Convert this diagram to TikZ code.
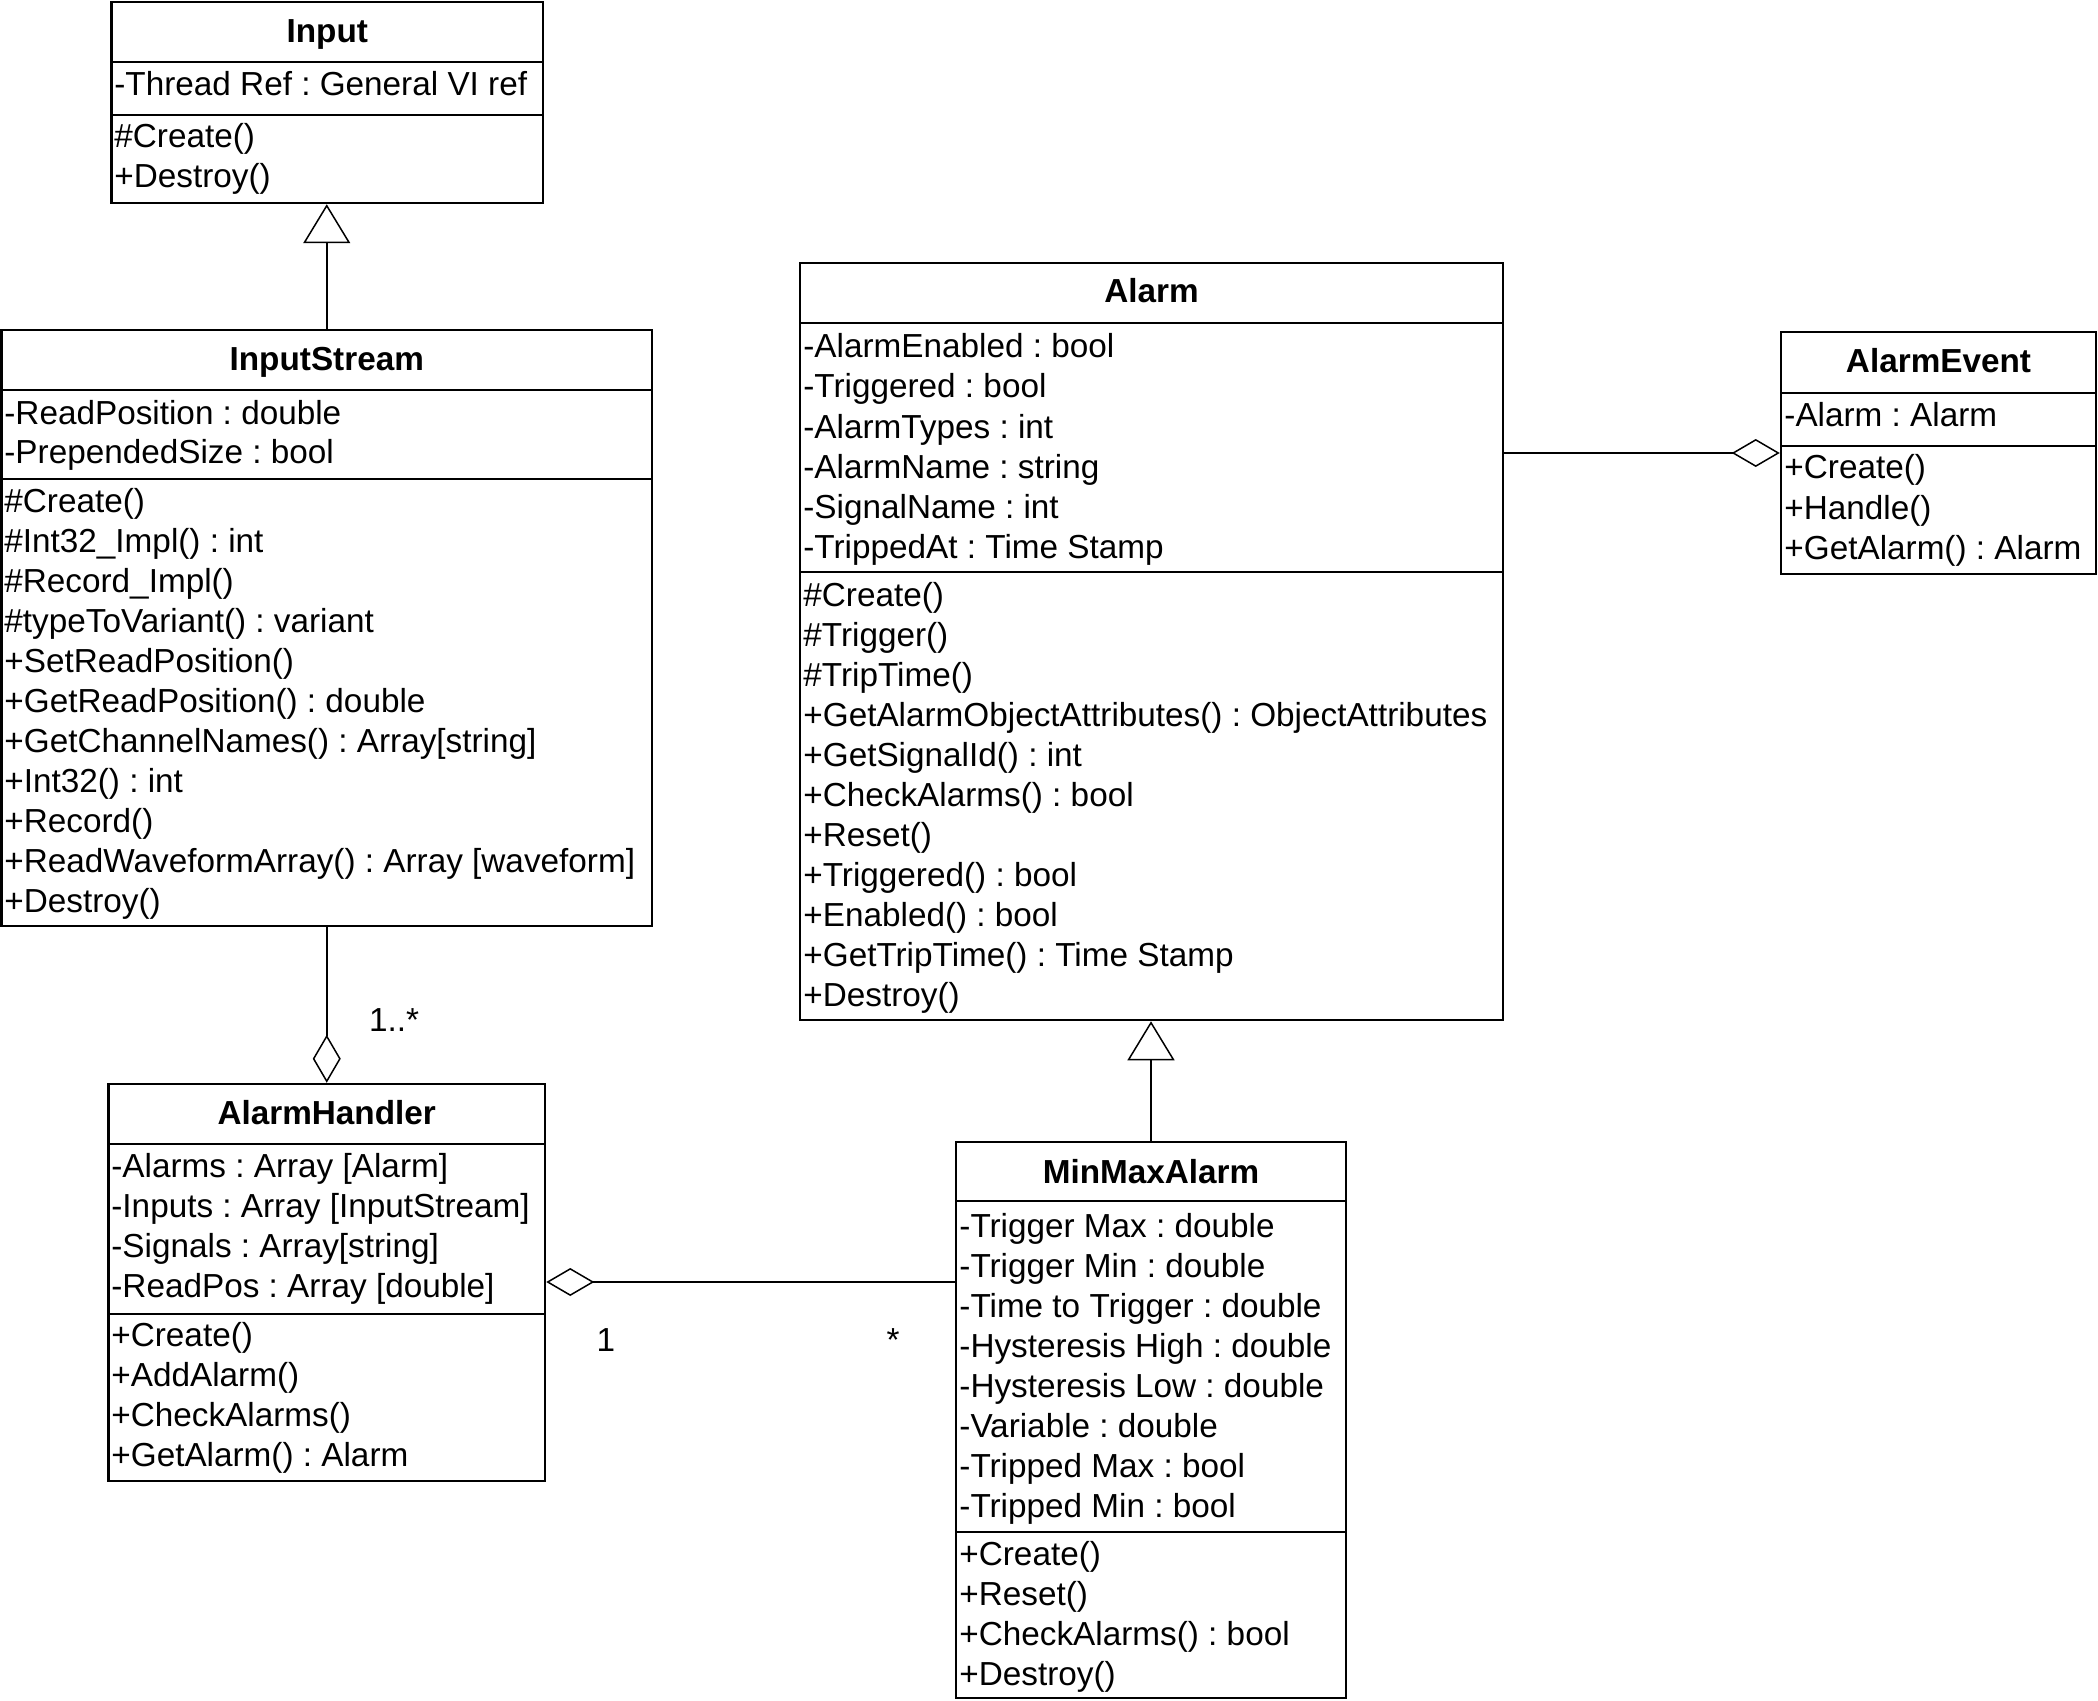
\documentclass[tikz,border=0pt]{standalone}
\usepackage{fontspec}
\setmainfont{Liberation Sans}
\usetikzlibrary{arrows.meta,fit}
\frenchspacing
\newcommand\ulines[4]{\foreach \t [count=\i] in {#4} {\node[txt] (#1-\i) at (#2,{#3+1+40*(\i-1)}) {\t};}}
\begin{document}
\begin{tikzpicture}[x=0.5pt,y=-0.5pt,
  txt/.style={anchor=base west, inner sep=0pt, font=\fontsize{16.65}{20}\selectfont},
  ttl/.style={anchor=base, inner sep=0pt, font=\fontsize{16.65}{20}\selectfont\bfseries},
  cbox/.style={draw, line width=1.25pt, inner sep=0pt},
  sep/.style={line width=1.25pt},
  conn/.style={line width=0.75pt},
  gen/.style={conn, -{Triangle[open, length=19.5pt, width=23.5pt]}},
  agg/.style={conn, -{Diamond[open, length=24pt, width=14pt]}},
]
\useasboundingbox (0,0) rectangle (2098,1701);

% Input
\node[cbox, fit={(111.5,2) (543,203)}] (input) {};
\draw[sep] (111.5,62) -- (543,62);
\draw[sep] (111.5,115) -- (543,115);
\node[ttl] (input-t) at (327.25,43) {Input};
\ulines{input-a}{114}{95}{{-Thread Ref : General VI ref}}
\ulines{input-m}{114}{147}{{\#Create()},{+Destroy()}}

% InputStream
\node[cbox, fit={(1.5,330) (652,926)}] (instream) {};
\draw[sep] (1.5,390) -- (652,390);
\draw[sep] (1.5,479) -- (652,479);
\node[ttl] (instream-t) at (326.75,371) {InputStream};
\ulines{instream-a}{4}{423}{{-ReadPosition : double},{-PrependedSize : bool}}
\ulines{instream-m}{4}{511}{{\#Create()},{\#Int32\_Impl() : int},{\#Record\_Impl()},{\#typeToVariant() : variant},{+SetReadPosition()},{+GetReadPosition() : double},{+GetChannelNames() : Array[string]},{+Int32() : int},{+Record()},{+ReadWaveformArray() : Array [waveform]},{+Destroy()}}

% AlarmHandler
\node[cbox, fit={(108.5,1084) (545,1481)}] (handler) {};
\draw[sep] (108.5,1144) -- (545,1144);
\draw[sep] (108.5,1314) -- (545,1314);
\node[ttl] (handler-t) at (326.75,1124) {AlarmHandler};
\ulines{handler-a}{111}{1176}{{-Alarms : Array [Alarm]},{-Inputs : Array [InputStream]},{-Signals : Array[string]},{-ReadPos : Array [double]}}
\ulines{handler-m}{111}{1345}{{+Create()},{+AddAlarm()},{+CheckAlarms()},{+GetAlarm() : Alarm}}

% Alarm
\node[cbox, fit={(800,263) (1503,1020)}] (alarm) {};
\draw[sep] (800,323) -- (1503,323);
\draw[sep] (800,572) -- (1503,572);
\node[ttl] (alarm-t) at (1151.5,303) {Alarm};
\ulines{alarm-a}{803}{357}{{-AlarmEnabled : bool},{-Triggered : bool},{-AlarmTypes : int},{-AlarmName : string},{-SignalName : int},{-TrippedAt : Time Stamp}}
\ulines{alarm-m}{803}{605}{{\#Create()},{\#Trigger()},{\#TripTime()},{+GetAlarmObjectAttributes() : ObjectAttributes},{+GetSignalId() : int},{+CheckAlarms() : bool},{+Reset()},{+Triggered() : bool},{+Enabled() : bool},{+GetTripTime() : Time Stamp},{+Destroy()}}

% AlarmEvent
\node[cbox, fit={(1781,332) (2096,574)}] (event) {};
\draw[sep] (1781,393) -- (2096,393);
\draw[sep] (1781,446) -- (2096,446);
\node[ttl] (event-t) at (1938.5,373) {AlarmEvent};
\ulines{event-a}{1784}{426}{{-Alarm : Alarm}}
\ulines{event-m}{1784}{478}{{+Create()},{+Handle()},{+GetAlarm() : Alarm}}

% MinMaxAlarm
\node[cbox, fit={(956,1142) (1346,1698)}] (minmax) {};
\draw[sep] (956,1201) -- (1346,1201);
\draw[sep] (956,1532) -- (1346,1532);
\node[ttl] (minmax-t) at (1151,1183) {MinMaxAlarm};
\ulines{minmax-a}{959}{1236}{{-Trigger Max : double},{-Trigger Min : double},{-Time to Trigger : double},{-Hysteresis High : double},{-Hysteresis Low : double},{-Variable : double},{-Tripped Max : bool},{-Tripped Min : bool}}
\ulines{minmax-m}{959}{1564}{{+Create()},{+Reset()},{+CheckAlarms() : bool},{+Destroy()}}

% connectors
\coordinate (h1) at (0,1282);
\coordinate (h2) at (0,453);
\draw[gen] (instream.north) -- (instream.north |- input.south);
\draw[gen] (minmax.north) -- (minmax.north |- alarm.south);
\draw[agg] (instream.south) -- (instream.south |- handler.north);
\draw[agg] (minmax.west |- h1) -- (handler.east |- h1);
\draw[agg] (alarm.east |- h2) -- (event.west |- h2);

% multiplicities
\node[txt, anchor=base] (m1) at (394,1031) {1..*};
\node[txt, anchor=base] (m2) at (606,1351) {1};
\node[txt, anchor=base] (m3) at (893,1351) {*};
\end{tikzpicture}
\end{document}
